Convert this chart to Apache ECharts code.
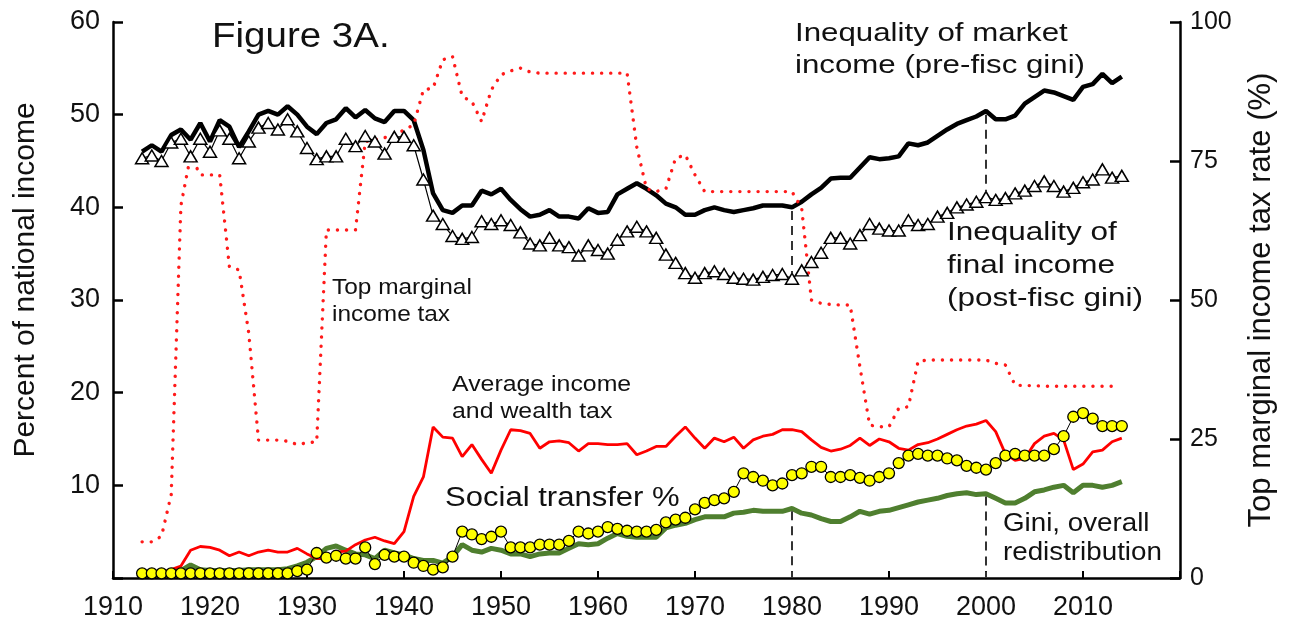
<!DOCTYPE html>
<html lang="en">
<head>
<meta charset="UTF-8">
<title>Figure 3A</title>
<script src="https://cdn.jsdelivr.net/npm/echarts@6.0.0/dist/echarts.min.js"></script>
<style>
  html, body { margin: 0; padding: 0; background: #fff; }
  #main { width: 1290px; height: 625px; }
</style>
</head>
<body>
<div id="main"></div>
<script>
// yearly values, 1913 .. 2014 (one row per decade)
var firstYear = 1913;

// inequality of market income (pre-fisc gini), % of national income
var preFisc = [
  46.0, 46.7, 46.0, 47.8, 48.4, 47.3, 49.1,
  47.1, 49.4, 48.7, 46.5, 48.2, 50.0, 50.4, 50.0, 50.9, 50.0,
  48.7, 47.9, 49.1, 49.5, 50.7, 49.7, 50.5, 49.6, 49.2, 50.4,
  50.4, 49.4, 46.2, 41.5, 39.7, 39.4, 40.2, 40.2, 41.8, 41.4,
  42.0, 40.8, 39.8, 39.0, 39.2, 39.7, 39.0, 39.0, 38.8, 39.9,
  39.4, 39.5, 41.4, 42.0, 42.6, 42.0, 41.3, 40.4, 40.0, 39.2,
  39.2, 39.7, 40.0, 39.7, 39.5, 39.7, 39.9, 40.2, 40.2, 40.2,
  40.0, 40.6, 41.4, 42.1, 43.1, 43.2, 43.2, 44.3, 45.4, 45.2,
  45.3, 45.5, 46.9, 46.7, 47.0, 47.7, 48.4, 49.0, 49.4, 49.8,
  50.4, 49.5, 49.5, 49.9, 51.2, 51.9, 52.6, 52.4, 52.0, 51.6,
  53.0, 53.3, 54.4, 53.4, 54.1
];

// inequality of final income (post-fisc gini)
var postFisc = [
  45.3, 45.6, 45.0, 47.0, 47.4, 45.5, 47.4,
  46.0, 48.3, 47.4, 45.3, 47.1, 48.6, 49.1, 48.4, 49.5, 48.2,
  46.4, 45.2, 45.5, 45.5, 47.4, 46.6, 47.7, 47.1, 45.8, 47.6,
  47.6, 46.7, 43.0, 39.1, 38.2, 36.9, 36.6, 36.8, 38.5, 38.2,
  38.6, 38.1, 37.3, 36.1, 35.9, 36.7, 35.9, 35.7, 34.8, 35.9,
  35.4, 35.0, 36.5, 37.4, 37.9, 37.4, 36.7, 34.9, 34.0, 32.9,
  32.4, 32.9, 33.1, 32.8, 32.4, 32.3, 32.2, 32.5, 32.7, 32.8,
  32.3, 33.2, 34.1, 35.1, 36.7, 36.7, 36.1, 37.0, 38.2, 37.7,
  37.5, 37.5, 38.6, 38.1, 38.2, 39.0, 39.4, 40.0, 40.3, 40.6,
  41.1, 40.8, 41.0, 41.5, 41.8, 42.3, 42.8, 42.3, 41.7, 42.1,
  42.7, 43.0, 44.1, 43.2, 43.4
];

// top marginal income tax rate, % (right axis)
var topTax = [
  6.5, 6.5, 7.5, 15.0, 67.0, 76.0, 72.5,
  72.5, 72.5, 56.0, 55.4, 44.0, 24.8, 24.8, 24.8, 24.6, 24.0,
  24.3, 24.5, 62.6, 62.6, 62.6, 62.6, 78.5, 78.8, 79.2, 79.6,
  80.6, 81.5, 87.8, 88.1, 93.2, 93.8, 86.6, 85.7, 82.1, 87.8,
  90.5, 91.2, 91.7, 91.0, 90.8, 90.8, 90.8, 90.8, 90.8, 90.8,
  90.8, 90.8, 90.8, 90.8, 77.5, 70.0, 69.5, 70.0, 75.5, 76.1,
  72.5, 69.5, 69.5, 69.5, 69.5, 69.5, 69.5, 69.5, 69.5, 69.5,
  69.5, 66.5, 50.0, 49.4, 49.2, 49.1, 49.1, 38.0, 27.5, 27.2,
  27.2, 30.5, 30.8, 39.0, 39.2, 39.2, 39.2, 39.2, 39.2, 39.2,
  39.2, 38.6, 38.3, 34.7, 34.6, 34.6, 34.5, 34.5, 34.5, 34.5,
  34.5, 34.5, 34.5, 34.5, null
];

// average income and wealth tax, % of national income
var avgTax = [
  0.2, 0.4, 0.6, 0.9, 1.3, 3.0, 3.4,
  3.3, 3.0, 2.4, 2.8, 2.4, 2.8, 3.0, 2.8, 2.8, 3.2,
  2.6, 2.1, 2.1, 2.8, 2.9, 3.6, 4.1, 4.4, 4.0, 3.7,
  5.0, 8.8, 10.9, 16.3, 15.2, 15.1, 13.1, 14.4, 12.8, 11.3,
  13.8, 16.0, 15.9, 15.6, 14.0, 14.7, 14.8, 14.6, 13.7, 14.5,
  14.5, 14.4, 14.4, 14.5, 13.3, 13.7, 14.2, 14.2, 15.3, 16.3,
  15.1, 14.0, 15.1, 14.7, 15.2, 14.0, 14.9, 15.3, 15.5, 16.0,
  16.0, 15.8, 14.9, 14.1, 13.7, 13.9, 14.3, 15.1, 14.3, 15.0,
  14.7, 14.0, 13.8, 14.4, 14.6, 15.0, 15.5, 16.0, 16.4, 16.6,
  17.0, 15.8, 13.4, 12.7, 12.9, 14.5, 15.3, 15.6, 14.9, 11.7,
  12.3, 13.6, 13.8, 14.7, 15.1
];

// social transfers, % of national income
var socialTransfer = [
  0.5, 0.5, 0.5, 0.5, 0.5, 0.5, 0.5,
  0.5, 0.5, 0.5, 0.5, 0.5, 0.5, 0.5, 0.5, 0.5, 0.75,
  0.9, 2.7, 2.2, 2.4, 2.1, 2.1, 3.3, 1.5, 2.5, 2.3,
  2.3, 1.65, 1.3, 0.9, 1.15, 2.3, 5.0, 4.7, 4.2, 4.45,
  5.0, 3.3, 3.3, 3.3, 3.6, 3.6, 3.6, 4.0, 5.0, 4.8,
  5.0, 5.5, 5.3, 5.1, 5.0, 5.0, 5.2, 6.0, 6.3, 6.5,
  7.4, 8.1, 8.4, 8.6, 9.3, 11.3, 10.9, 10.5, 10.0, 10.2,
  11.1, 11.3, 12.0, 12.0, 10.9, 10.9, 11.1, 10.8, 10.5, 10.9,
  11.3, 12.4, 13.2, 13.4, 13.2, 13.2, 12.9, 12.7, 12.1, 11.9,
  11.7, 12.4, 13.2, 13.4, 13.2, 13.2, 13.2, 13.9, 15.3, 17.4,
  17.8, 17.2, 16.4, 16.4, 16.4
];

// gini, overall redistribution (pre minus post)
var redistribution = [
  0.3, 0.4, 0.5, 0.6, 0.8, 1.4, 0.9,
  0.8, 0.8, 0.8, 0.8, 0.9, 0.9, 0.9, 0.9, 1.0, 1.3,
  1.7, 2.3, 3.2, 3.45, 3.0, 2.6, 2.5, 2.1, 3.0, 2.7,
  2.5, 2.1, 1.9, 1.9, 1.6, 2.3, 3.6, 3.0, 2.8, 3.2,
  3.0, 2.6, 2.6, 2.3, 2.6, 2.7, 2.7, 3.2, 3.7, 3.6,
  3.7, 4.3, 4.8, 4.5, 4.4, 4.4, 4.4, 5.4, 5.7, 5.9,
  6.3, 6.6, 6.6, 6.6, 7.0, 7.1, 7.3, 7.2, 7.2, 7.2,
  7.5, 7.0, 6.8, 6.4, 6.1, 6.1, 6.6, 7.2, 6.9, 7.2,
  7.3, 7.6, 7.9, 8.2, 8.4, 8.6, 8.9, 9.1, 9.2, 9.0,
  9.1, 8.6, 8.1, 8.1, 8.6, 9.3, 9.5, 9.8, 10.0, 9.2,
  10.0, 10.0, 9.8, 10.0, 10.4
];

var markYears = [1980, 2000];

var years = preFisc.map(function (v, i) { return firstYear + i; });
function pairs(arr) {
  return arr.map(function (v, i) { return [years[i], v]; });
}

// dashed guides: pre-fisc down to post-fisc, and redistribution down to 0
var guides = [];
markYears.forEach(function (y) {
  var i = years.indexOf(y);
  guides.push([{ coord: [y, preFisc[i] - 0.4] }, { coord: [y, postFisc[i] + 0.6] }]);
  guides.push([{ coord: [y, redistribution[i] - 0.3] }, { coord: [y, 0] }]);
});

var FONT = '"Liberation Sans", Arial, sans-serif';

function note(text, left, baseline, size, sx) {
  return {
    type: 'text',
    x: left,
    y: baseline - size * 0.36,
    scaleX: sx,
    z: 100,
    style: {
      text: text,
      font: size + 'px ' + FONT,
      fill: '#111',
      textAlign: 'left',
      textVerticalAlign: 'middle'
    }
  };
}

var chart = echarts.init(document.getElementById('main'));

var axisLine = { show: true, lineStyle: { color: '#000', width: 2.5 } };

chart.setOption({
  animation: false,
  backgroundColor: '#fff',
  grid: { left: 113, right: 110, top: 22, bottom: 47 },
  xAxis: {
    type: 'value',
    min: 1910,
    max: 2020,
    interval: 10,
    axisLine: axisLine,
    axisTick: { show: true, inside: true, length: 7, lineStyle: { color: '#000', width: 2 } },
    axisLabel: {
      margin: 16,
      fontSize: 27,
      fontFamily: FONT,
      color: '#111',
      formatter: function (v) { return v === 2020 ? '' : String(v); }
    },
    splitLine: { show: false }
  },
  yAxis: [
    {
      type: 'value',
      min: 0,
      max: 60,
      interval: 10,
      axisLine: axisLine,
      axisTick: { show: true, inside: true, length: 10, lineStyle: { color: '#000', width: 2.5 } },
      axisLabel: {
        margin: 13,
        fontSize: 27,
        fontFamily: FONT,
        color: '#111',
        formatter: function (v) { return v === 0 ? '' : String(v); }
      },
      splitLine: { show: false }
    },
    {
      type: 'value',
      position: 'right',
      min: 0,
      max: 100,
      interval: 25,
      axisLine: axisLine,
      axisTick: { show: true, inside: true, length: 10, lineStyle: { color: '#000', width: 2.5 } },
      axisLabel: { margin: 10, fontSize: 25, fontFamily: FONT, color: '#111' },
      splitLine: { show: false }
    }
  ],
  series: [
    {
      name: 'Gini, overall redistribution',
      type: 'line',
      data: pairs(redistribution),
      symbol: 'none',
      lineStyle: { color: '#4f7f2f', width: 5 },
      markLine: {
        silent: true,
        symbol: 'none',
        label: { show: false },
        lineStyle: { color: '#333', width: 2, type: [9, 6] },
        data: guides
      }
    },
    {
      name: 'Social transfer %',
      type: 'line',
      data: pairs(socialTransfer),
      symbol: 'circle',
      symbolSize: 11,
      lineStyle: { color: '#000', width: 1 },
      itemStyle: { color: '#ffff00', borderColor: '#000', borderWidth: 1.3 }
    },
    {
      name: 'Average income and wealth tax',
      type: 'line',
      data: pairs(avgTax),
      symbol: 'none',
      lineStyle: { color: '#ff0000', width: 2.8 }
    },
    {
      name: 'Inequality of final income',
      type: 'line',
      data: pairs(postFisc),
      symbol: 'triangle',
      symbolSize: [13, 11],
      lineStyle: { color: '#000', width: 1.2 },
      itemStyle: { color: '#fff', borderColor: '#000', borderWidth: 1.5 }
    },
    {
      name: 'Inequality of market income',
      type: 'line',
      data: pairs(preFisc),
      symbol: 'none',
      lineStyle: { color: '#000', width: 4.5 }
    },
    {
      name: 'Top marginal income tax',
      type: 'line',
      yAxisIndex: 1,
      data: pairs(topTax),
      symbol: 'none',
      lineStyle: { color: '#ff1a1a', width: 3.4, type: [0.1, 9], cap: 'round' }
    }
  ],
  graphic: [
    note('Figure 3A.', 212, 50, 35, 1.1),
    note('Inequality of market', 795, 43, 25, 1.25),
    note('income (pre-fisc gini)', 795, 75, 25, 1.25),
    note('Inequality of', 947, 242, 25, 1.26),
    note('final income', 947, 275, 25, 1.26),
    note('(post-fisc gini)', 947, 308, 25, 1.26),
    note('Top marginal', 332, 296, 22, 1.11),
    note('income tax', 332, 323, 22, 1.11),
    note('Average income', 452, 393, 22, 1.13),
    note('and wealth tax', 452, 420, 22, 1.13),
    note('Social transfer %', 445, 508, 27, 1.15),
    note('Gini, overall', 1003, 533, 25, 1.11),
    note('redistribution', 1003, 562, 25, 1.11),
    {
      type: 'text',
      x: 26,
      y: 280,
      rotation: Math.PI / 2,
      style: {
        text: 'Percent of national income',
        font: '30px ' + FONT,
        fill: '#111',
        textAlign: 'center',
        textVerticalAlign: 'middle'
      }
    },
    {
      type: 'text',
      x: 1261,
      y: 300,
      rotation: Math.PI / 2,
      style: {
        text: 'Top marginal income tax rate (%)',
        font: '31px ' + FONT,
        fill: '#111',
        textAlign: 'center',
        textVerticalAlign: 'middle'
      }
    }
  ]
});
</script>
</body>
</html>
